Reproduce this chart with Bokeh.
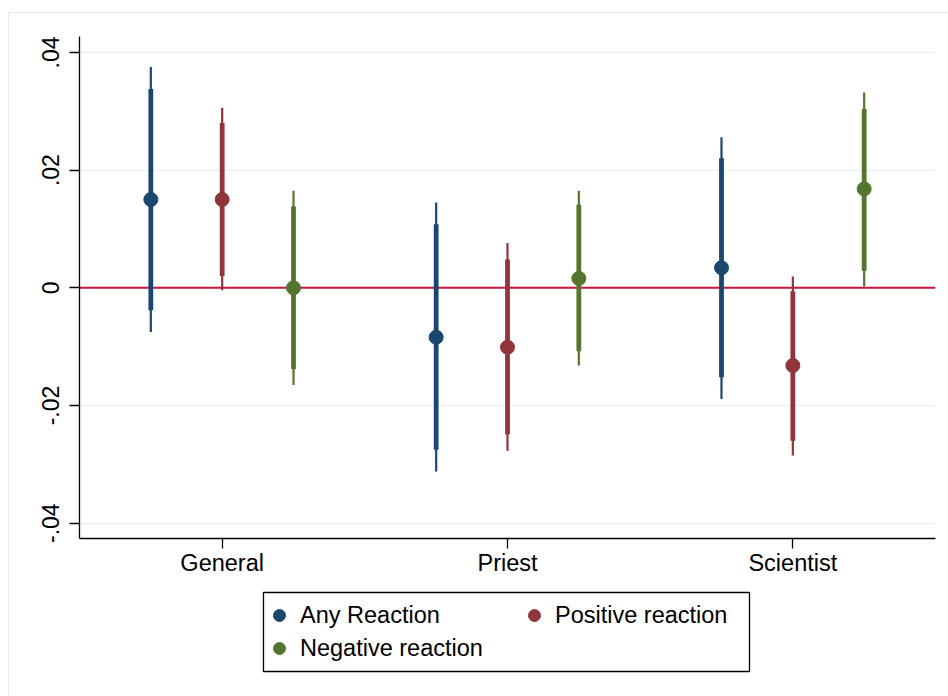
import math
from bokeh.plotting import figure
from bokeh.layouts import column
from bokeh.models import (FactorRange, ColumnDataSource, FixedTicker, Span, Legend,
                          LegendItem)
from bokeh.transform import dodge
from bokeh.embed import file_html
from bokeh.resources import INLINE

# ---------------- data ----------------
categories = ["General", "Priest", "Scientist"]
series_names = ["Any Reaction", "Positive reaction", "Negative reaction"]
series_colors = ["#1A476F", "#90353B", "#55752F"]
series_offsets = [-0.25, 0.0, 0.25]

any_est = [0.0150, -0.0084, 0.0034]
any_lo90 = [-0.0038, -0.0275, -0.0152]
any_hi90 = [0.0338, 0.0108, 0.0220]
any_lo95 = [-0.0075, -0.0312, -0.0189]
any_hi95 = [0.0375, 0.0145, 0.0256]

pos_est = [0.0150, -0.0101, -0.0132]
pos_lo90 = [0.0020, -0.0249, -0.0260]
pos_hi90 = [0.0280, 0.0048, -0.0006]
pos_lo95 = [-0.0004, -0.0277, -0.0285]
pos_hi95 = [0.0306, 0.0076, 0.0019]

neg_est = [0.0000, 0.0016, 0.0168]
neg_lo90 = [-0.0138, -0.0108, 0.0029]
neg_hi90 = [0.0138, 0.0141, 0.0304]
neg_lo95 = [-0.0165, -0.0132, 0.0002]
neg_hi95 = [0.0165, 0.0165, 0.0332]

ytick_vals = [-0.04, -0.02, 0, 0.02, 0.04]
ytick_labels = ["-.04", "-.02", "0", ".02", ".04"]

# legend columns: first column Any / Negative, second column Positive
legend_col1 = [0, 2]
legend_col2 = [1]

FONT = "Liberation Sans"

# ---------------- main chart ----------------
p = figure(x_range=FactorRange(*categories, range_padding=0),
           y_range=(-0.0426, 0.0427),
           width=939, height=570, output_backend="svg", toolbar_location=None,
           min_border_left=70, min_border_right=13, min_border_top=23,
           min_border_bottom=45)
p.outline_line_color = None
p.background_fill_color = "white"
p.border_fill_color = "white"

p.xgrid.grid_line_color = None
p.ygrid.ticker = FixedTicker(ticks=ytick_vals)
p.ygrid.grid_line_color = "#EAF2F3"
p.ygrid.grid_line_width = 1.5

p.yaxis.ticker = FixedTicker(ticks=ytick_vals)
p.yaxis.major_label_overrides = dict(zip(ytick_vals, ytick_labels))
p.yaxis.major_label_orientation = "parallel"
for ax in (p.xaxis, p.yaxis):
    ax.axis_line_color = "black"
    ax.axis_line_width = 1.3
    ax.major_tick_line_color = "black"
    ax.major_tick_line_width = 1.3
    ax.major_tick_out = 10
    ax.major_tick_in = 0
    ax.minor_tick_line_color = None
    ax.major_label_text_font = FONT
    ax.major_label_text_color = "black"
p.yaxis.major_label_text_font_size = "23px"
p.yaxis.major_label_standoff = 10
p.xaxis.major_label_text_font_size = "23.5px"
p.xaxis.major_label_standoff = 1

p.add_layout(Span(location=0, dimension="width", line_color="#C8163C",
                  line_width=2, level="underlay"))

all_data = [
    (any_est, any_lo90, any_hi90, any_lo95, any_hi95),
    (pos_est, pos_lo90, pos_hi90, pos_lo95, pos_hi95),
    (neg_est, neg_lo90, neg_hi90, neg_lo95, neg_hi95),
]

for name, color, off, (est, lo90, hi90, lo95, hi95) in zip(
        series_names, series_colors, series_offsets, all_data):
    src = ColumnDataSource(dict(cat=categories, est=est, lo90=lo90, hi90=hi90,
                                lo95=lo95, hi95=hi95))
    x = dodge("cat", off, range=p.x_range)
    p.segment(x0=x, y0="lo95", x1=x, y1="hi95", source=src,
              line_color=color, line_width=2.2, line_cap="butt")
    p.segment(x0=x, y0="lo90", x1=x, y1="hi90", source=src,
              line_color=color, line_width=4.8, line_cap="butt")
    p.scatter(x=x, y="est", source=src, size=14, marker="circle",
              fill_color=color, line_color=color)

# ---------------- legend strip (its frame is the legend box) ----------------
lg = figure(width=939, height=113, output_backend="svg", toolbar_location=None,
            x_axis_location=None, y_axis_location=None,
            min_border_left=254, min_border_right=199, min_border_top=9,
            min_border_bottom=25, x_range=(0, 1), y_range=(0, 1))
lg.outline_line_color = "black"
lg.outline_line_width = 1.3
lg.grid.grid_line_color = None
lg.background_fill_color = "white"
lg.border_fill_color = "white"

# do not align the two frames with each other
for fig in (p, lg):
    if "frame_align" in fig.properties():
        fig.frame_align = False


def make_items(indices):
    out = []
    for i in indices:
        # swatch renderer only (no visible data point)
        r = lg.scatter(x=[float("nan")], y=[float("nan")], marker="circle",
                       fill_color=series_colors[i], line_color=series_colors[i])
        out.append(LegendItem(label=series_names[i], renderers=[r]))
    return out


common = dict(label_text_font=FONT, label_text_font_size="23.5px",
              label_text_color="black", glyph_width=30, glyph_height=30,
              label_standoff=6, padding=0, spacing=3, margin=0,
              border_line_color=None, background_fill_alpha=0)
lg.add_layout(Legend(items=make_items(legend_col1), location=(1, 8), **common),
              "center")
lg.add_layout(Legend(items=make_items(legend_col2), location=(256, 41), **common),
              "center")

layout = column(p, lg, spacing=0)
layout.margin = (12, 0, 0, 8)
layout.styles = {"border-top": "1px solid #E3ECEF", "border-left": "1px solid #E3ECEF",
                 "background-color": "white"}

open("out.html", "w").write(file_html(layout, INLINE))
